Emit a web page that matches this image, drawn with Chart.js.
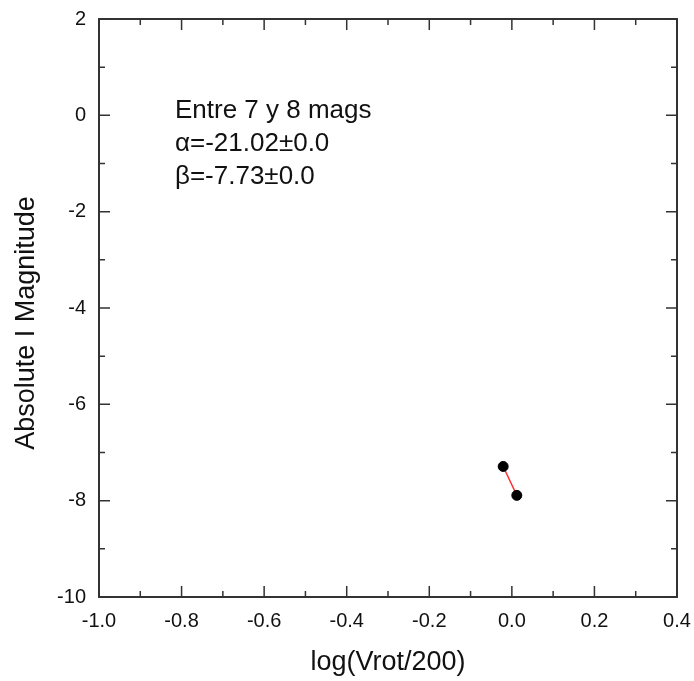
<!DOCTYPE html>
<html>
<head>
<meta charset="utf-8">
<script src="https://cdn.jsdelivr.net/npm/chart.js@4"></script>
<style>
  html, body { margin: 0; padding: 0; background: #fff; }
  #wrap { width: 694px; height: 681px; }
</style>
</head>
<body>
<div id="wrap"><canvas id="chart"></canvas></div>
<script>
const logV = [-0.021, 0.012];
const magI = [-7.29, -7.89];
const fitX = [-0.021, 0.012];
const fitY = [-7.29, -7.89];
const noteLines = ['Entre 7 y 8 mags', 'α=-21.02±0.0', 'β=-7.73±0.0'];
const noteAt = { x: -0.816, y: -0.06 };

const FONT = '"Liberation Sans", Arial, sans-serif';

// frame with inward ticks on all four sides
const framePlugin = {
  id: 'frame',
  afterDatasetsDraw(chart) {
    const { ctx, chartArea: a, scales } = chart;
    ctx.save();
    ctx.strokeStyle = '#333';
    ctx.lineWidth = 2;
    ctx.strokeRect(a.left, a.top, a.right - a.left, a.bottom - a.top);
    ctx.lineWidth = 1.5;
    ctx.beginPath();
    for (let i = 0; i <= 14; i++) {
      const v = -1 + i * 0.1;
      const px = scales.x.getPixelForValue(v);
      const len = i % 2 === 0 ? 11 : 6;
      ctx.moveTo(px, a.bottom); ctx.lineTo(px, a.bottom - len);
      ctx.moveTo(px, a.top); ctx.lineTo(px, a.top + len);
    }
    for (let v = -10; v <= 2; v++) {
      const py = scales.y.getPixelForValue(v);
      const len = v % 2 === 0 ? 11 : 6;
      ctx.moveTo(a.left, py); ctx.lineTo(a.left + len, py);
      ctx.moveTo(a.right, py); ctx.lineTo(a.right - len, py);
    }
    ctx.stroke();

    // annotation text
    ctx.fillStyle = '#111';
    ctx.font = '26px ' + FONT;
    ctx.textAlign = 'left';
    ctx.textBaseline = 'alphabetic';
    const x0 = scales.x.getPixelForValue(noteAt.x);
    const y0 = scales.y.getPixelForValue(noteAt.y);
    noteLines.forEach((t, i) => ctx.fillText(t, x0, y0 + i * 33));
    ctx.restore();
  }
};

new Chart(document.getElementById('chart'), {
  type: 'scatter',
  data: {
    datasets: [
      {
        type: 'line',
        data: fitX.map((x, i) => ({ x, y: fitY[i] })),
        borderColor: '#ff3030',
        borderWidth: 1.5,
        pointRadius: 0,
        fill: false,
        order: 2
      },
      {
        data: logV.map((x, i) => ({ x, y: magI[i] })),
        backgroundColor: '#000',
        borderColor: '#000',
        pointRadius: 5,
        order: 1
      }
    ]
  },
  options: {
    responsive: true,
    maintainAspectRatio: false,
    animation: false,
    layout: { padding: { top: 19, right: 17, left: 0, bottom: 0 } },
    plugins: { legend: { display: false }, tooltip: { enabled: false } },
    scales: {
      x: {
        type: 'linear',
        min: -1, max: 0.4,
        afterFit: s => { s.height = 84; s.paddingLeft = 0; s.paddingRight = 0; },
        grid: { display: false, drawTicks: false },
        border: { display: false },
        ticks: {
          stepSize: 0.2,
          padding: 12,
          color: '#111',
          font: { family: FONT, size: 20 },
          callback: v => (Math.abs(v) < 1e-9 ? 0 : v).toFixed(1)
        },
        title: {
          display: true,
          text: 'log(Vrot/200)',
          color: '#111',
          font: { family: FONT, size: 27 },
          padding: { top: 2, bottom: 2 }
        }
      },
      y: {
        type: 'linear',
        min: -10, max: 2,
        afterFit: s => { s.width = 99; s.paddingTop = 0; s.paddingBottom = 0; },
        grid: { display: false, drawTicks: false },
        border: { display: false },
        ticks: {
          stepSize: 2,
          padding: 13,
          color: '#111',
          font: { family: FONT, size: 20 }
        },
        title: {
          display: true,
          // trailing no-break spaces nudge the label down a little, as in the original
          text: 'Absolute I Magnitude\u00a0\u00a0\u00a0\u00a0',
          color: '#111',
          font: { family: FONT, size: 27 },
          padding: { top: 10, bottom: 10 }
        }
      }
    }
  },
  plugins: [framePlugin]
});
</script>
</body>
</html>
